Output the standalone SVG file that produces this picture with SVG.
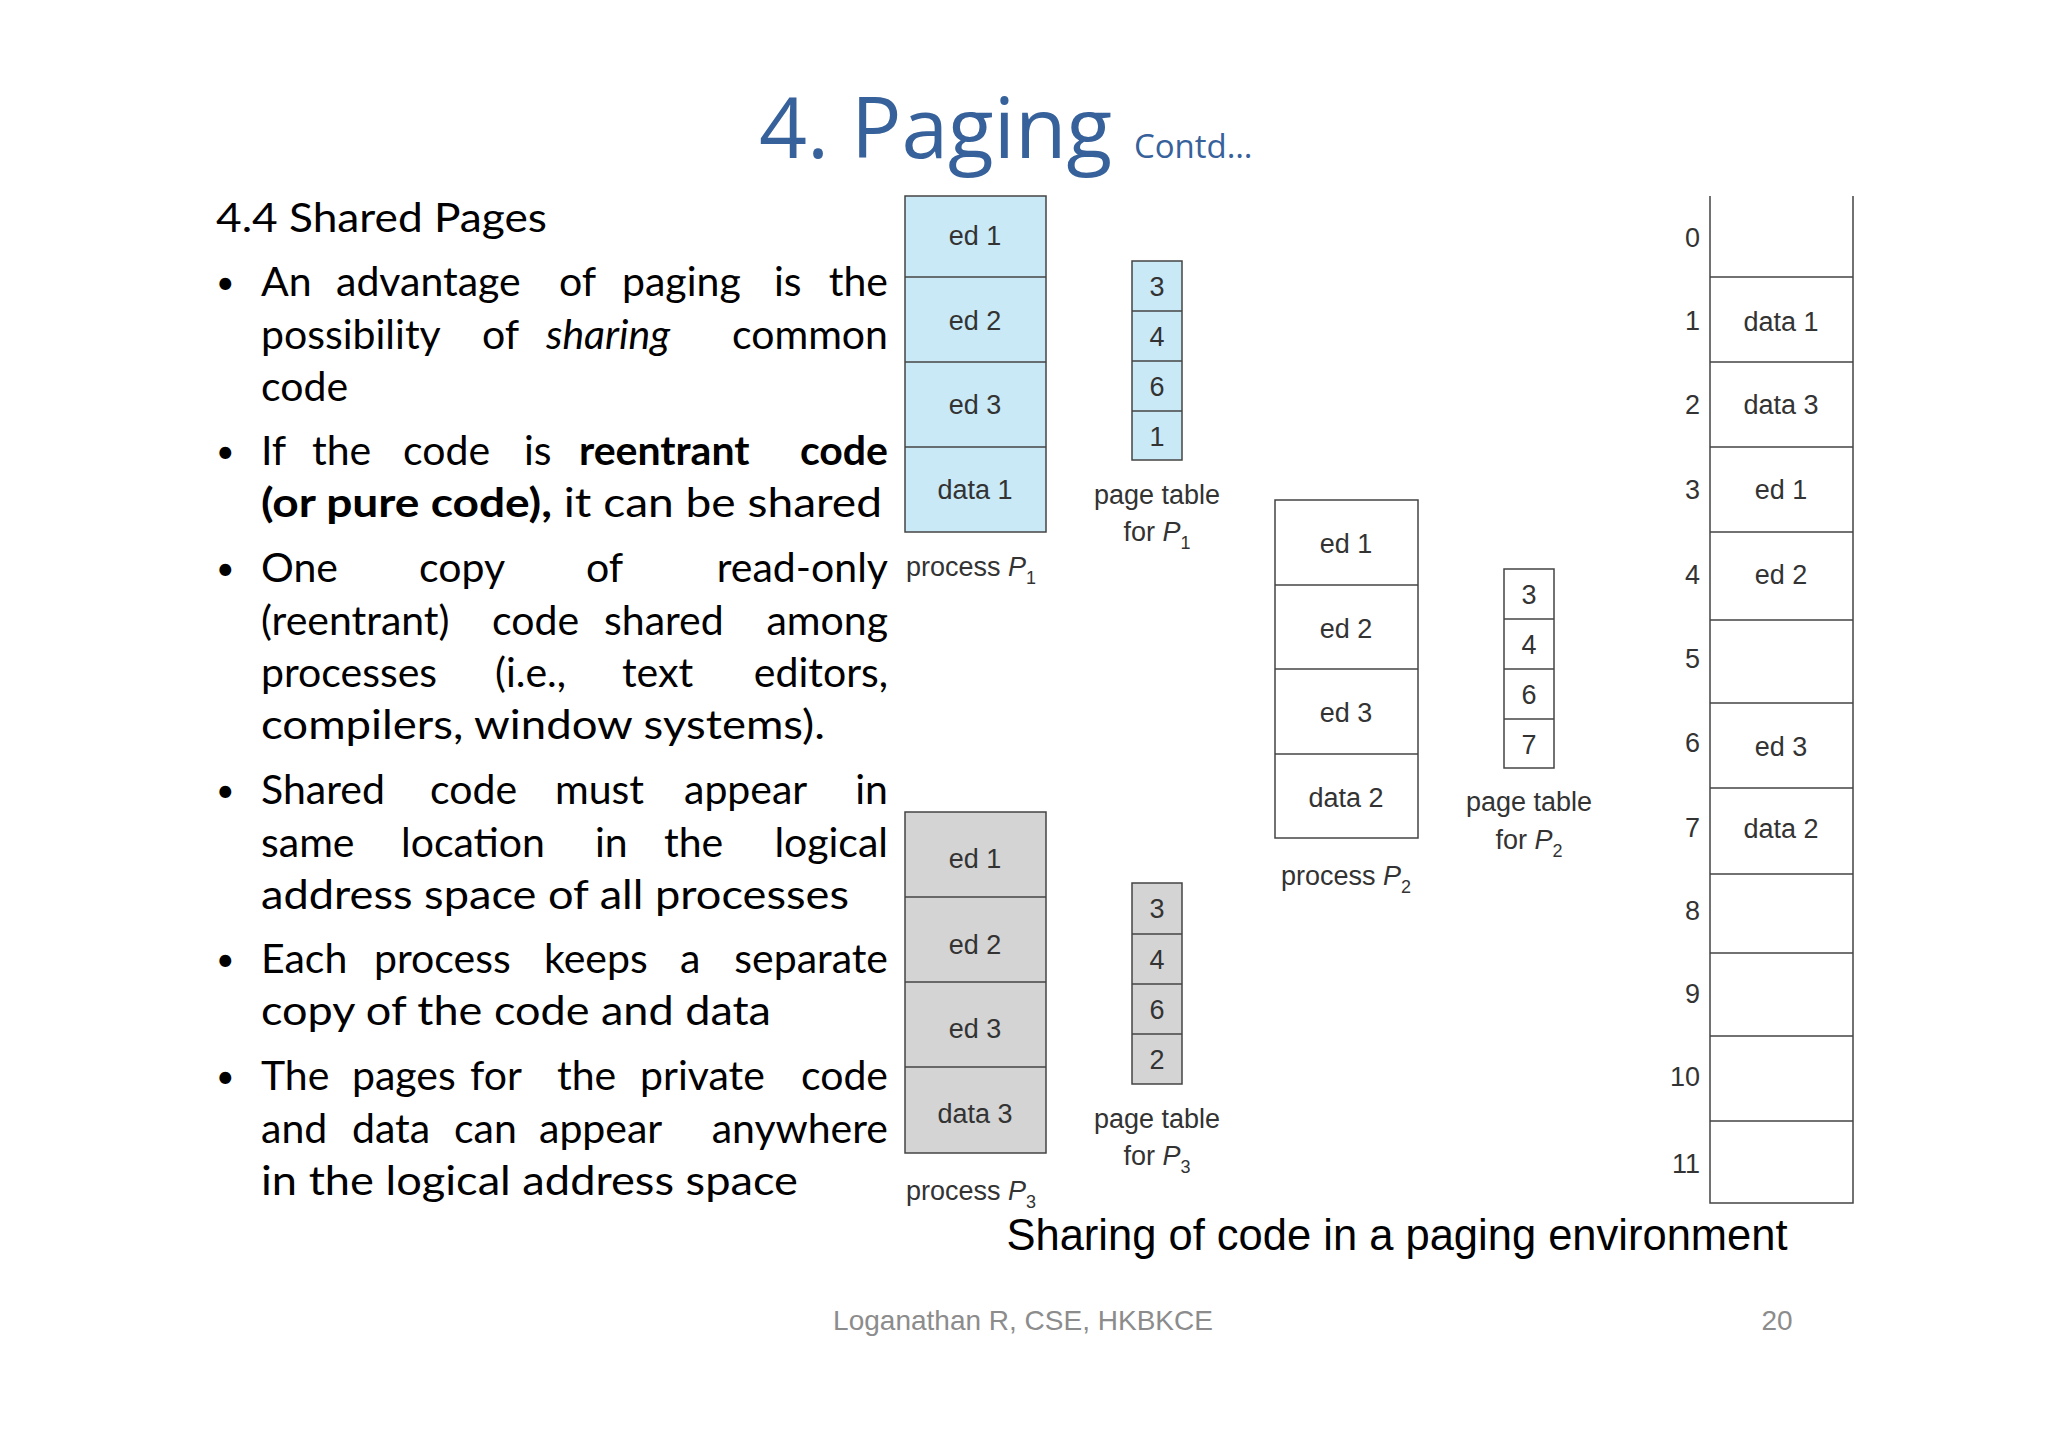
<svg xmlns="http://www.w3.org/2000/svg" width="2048" height="1447" viewBox="0 0 2048 1447">
<style>
.b{font-family:Lato,"Open Sans",sans-serif;font-size:41px;fill:#000}
.u{font-family:Lato,"Open Sans",sans-serif;font-size:32px;fill:#000}
.e{text-anchor:end}
.d{font-family:"Liberation Sans",Arial,sans-serif;font-size:27px;fill:#333;text-anchor:middle}
.s{font-family:"Liberation Sans",Arial,sans-serif;font-size:27px;fill:#333;text-anchor:start}
.n{font-family:"Liberation Sans",Arial,sans-serif;font-size:27px;fill:#333;text-anchor:end}
.c{stroke:#444;stroke-width:1.5}
.w{fill:#fff}.bl{fill:#c9e9f7}.g{fill:#d4d4d4}
</style>
<rect width="2048" height="1447" fill="#fff"/>
<text x="759" y="158" font-family="'Open Sans',sans-serif" font-size="84" fill="#37619a">4. Paging <tspan font-size="33">Contd…</tspan></text>
<g id="text">
<text class="b" x="216" y="232" textLength="331" lengthAdjust="spacingAndGlyphs">4.4 Shared Pages</text>
<text class="u" x="216" y="294">•</text>
<text class="b" y="296"><tspan x="261">An</tspan><tspan x="336">advantage</tspan><tspan x="559">of</tspan><tspan x="622">paging</tspan><tspan x="774">is</tspan></text><text class="b e" x="888" y="296">the</text>
<text class="b" y="349"><tspan x="261">possibility</tspan><tspan x="482">of</tspan><tspan x="546" font-style="italic">sharing</tspan></text><text class="b e" x="888" y="349">common</text>
<text class="b" x="261" y="401">code</text>
<text class="u" x="216" y="463">•</text>
<text class="b" y="465"><tspan x="261">If</tspan><tspan x="312">the</tspan><tspan x="403">code</tspan><tspan x="524">is</tspan><tspan x="579" font-weight="bold">reentrant</tspan></text><text class="b e" x="888" y="465" font-weight="bold">code</text>
<text class="b" x="261" y="517" textLength="621" lengthAdjust="spacingAndGlyphs"><tspan font-weight="bold">(or pure code),</tspan> it can be shared</text>
<text class="u" x="216" y="580">•</text>
<text class="b" y="582"><tspan x="261">One</tspan><tspan x="419">copy</tspan><tspan x="586">of</tspan></text><text class="b e" x="888" y="582">read-only</text>
<text class="b" y="635"><tspan x="261">(reentrant)</tspan><tspan x="492">code</tspan><tspan x="604">shared</tspan></text><text class="b e" x="888" y="635">among</text>
<text class="b" y="687"><tspan x="261">processes</tspan><tspan x="495">(i.e.,</tspan><tspan x="622">text</tspan></text><text class="b e" x="888" y="687">editors,</text>
<text class="b" x="261" y="739" textLength="564" lengthAdjust="spacingAndGlyphs">compilers, window systems).</text>
<text class="u" x="216" y="802">•</text>
<text class="b" y="804"><tspan x="261">Shared</tspan><tspan x="430">code</tspan><tspan x="555">must</tspan><tspan x="684">appear</tspan></text><text class="b e" x="888" y="804">in</text>
<text class="b" y="857"><tspan x="261">same</tspan><tspan x="401">location</tspan><tspan x="595">in</tspan><tspan x="664">the</tspan></text><text class="b e" x="888" y="857">logical</text>
<text class="b" x="261" y="909" textLength="588" lengthAdjust="spacingAndGlyphs">address space of all processes</text>
<text class="u" x="216" y="971">•</text>
<text class="b" y="973"><tspan x="261">Each</tspan><tspan x="374">process</tspan><tspan x="544">keeps</tspan><tspan x="680">a</tspan></text><text class="b e" x="888" y="973">separate</text>
<text class="b" x="261" y="1025" textLength="510" lengthAdjust="spacingAndGlyphs">copy of the code and data</text>
<text class="u" x="216" y="1088">•</text>
<text class="b" y="1090"><tspan x="261">The</tspan><tspan x="352">pages</tspan><tspan x="470">for</tspan><tspan x="557">the</tspan><tspan x="640">private</tspan></text><text class="b e" x="888" y="1090">code</text>
<text class="b" y="1143"><tspan x="261">and</tspan><tspan x="352">data</tspan><tspan x="454">can</tspan><tspan x="539">appear</tspan></text><text class="b e" x="888" y="1143">anywhere</text>
<text class="b" x="261" y="1195" textLength="537" lengthAdjust="spacingAndGlyphs">in the logical address space</text>
</g>
<g id="p1">
<rect class="c bl" x="905" y="196" width="141" height="336"/>
<line class="c" x1="905" y1="277" x2="1046" y2="277"/><line class="c" x1="905" y1="362" x2="1046" y2="362"/><line class="c" x1="905" y1="447" x2="1046" y2="447"/>
<text class="d" x="975" y="245">ed 1</text><text class="d" x="975" y="330">ed 2</text><text class="d" x="975" y="414">ed 3</text><text class="d" x="975" y="499">data 1</text>
<text class="s" x="906" y="576">process <tspan font-style="italic">P</tspan><tspan font-size="18" dy="8">1</tspan></text>
</g>
<g id="pt1">
<rect class="c bl" x="1132" y="261" width="50" height="199"/>
<line class="c" x1="1132" y1="311" x2="1182" y2="311"/><line class="c" x1="1132" y1="361" x2="1182" y2="361"/><line class="c" x1="1132" y1="411" x2="1182" y2="411"/>
<text class="d" x="1157" y="296">3</text><text class="d" x="1157" y="346">4</text><text class="d" x="1157" y="396">6</text><text class="d" x="1157" y="446">1</text>
<text class="d" x="1157" y="504">page table</text><text class="d" x="1157" y="541">for <tspan font-style="italic">P</tspan><tspan font-size="18" dy="8">1</tspan></text>
</g>
<g id="p2">
<rect class="c w" x="1275" y="500" width="143" height="338"/>
<line class="c" x1="1275" y1="585" x2="1418" y2="585"/><line class="c" x1="1275" y1="669" x2="1418" y2="669"/><line class="c" x1="1275" y1="754" x2="1418" y2="754"/>
<text class="d" x="1346" y="553">ed 1</text><text class="d" x="1346" y="638">ed 2</text><text class="d" x="1346" y="722">ed 3</text><text class="d" x="1346" y="807">data 2</text>
<text class="d" x="1346" y="885">process <tspan font-style="italic">P</tspan><tspan font-size="18" dy="8">2</tspan></text>
</g>
<g id="pt2">
<rect class="c w" x="1504" y="569" width="50" height="199"/>
<line class="c" x1="1504" y1="619" x2="1554" y2="619"/><line class="c" x1="1504" y1="669" x2="1554" y2="669"/><line class="c" x1="1504" y1="719" x2="1554" y2="719"/>
<text class="d" x="1529" y="604">3</text><text class="d" x="1529" y="654">4</text><text class="d" x="1529" y="704">6</text><text class="d" x="1529" y="754">7</text>
<text class="d" x="1529" y="811">page table</text><text class="d" x="1529" y="849">for <tspan font-style="italic">P</tspan><tspan font-size="18" dy="8">2</tspan></text>
</g>
<g id="p3">
<rect class="c g" x="905" y="812" width="141" height="341"/>
<line class="c" x1="905" y1="897" x2="1046" y2="897"/><line class="c" x1="905" y1="982" x2="1046" y2="982"/><line class="c" x1="905" y1="1067" x2="1046" y2="1067"/>
<text class="d" x="975" y="868">ed 1</text><text class="d" x="975" y="954">ed 2</text><text class="d" x="975" y="1038">ed 3</text><text class="d" x="975" y="1123">data 3</text>
<text class="s" x="906" y="1200">process <tspan font-style="italic">P</tspan><tspan font-size="18" dy="8">3</tspan></text>
</g>
<g id="pt3">
<rect class="c g" x="1132" y="883" width="50" height="201"/>
<line class="c" x1="1132" y1="934" x2="1182" y2="934"/><line class="c" x1="1132" y1="984" x2="1182" y2="984"/><line class="c" x1="1132" y1="1034" x2="1182" y2="1034"/>
<text class="d" x="1157" y="918">3</text><text class="d" x="1157" y="969">4</text><text class="d" x="1157" y="1019">6</text><text class="d" x="1157" y="1069">2</text>
<text class="d" x="1157" y="1128">page table</text><text class="d" x="1157" y="1165">for <tspan font-style="italic">P</tspan><tspan font-size="18" dy="8">3</tspan></text>
</g>
<g id="mem">
<rect class="w" x="1710" y="196" width="143" height="1007"/>
<path class="c" fill="none" d="M1710 196V1203H1853V196M1710 277H1853M1710 362H1853M1710 447H1853M1710 532H1853M1710 620H1853M1710 703H1853M1710 788H1853M1710 874H1853M1710 953H1853M1710 1036H1853M1710 1121H1853"/>
<text class="n" x="1700" y="247">0</text><text class="n" x="1700" y="330">1</text><text class="n" x="1700" y="414">2</text><text class="n" x="1700" y="499">3</text><text class="n" x="1700" y="584">4</text><text class="n" x="1700" y="668">5</text><text class="n" x="1700" y="752">6</text><text class="n" x="1700" y="837">7</text><text class="n" x="1700" y="920">8</text><text class="n" x="1700" y="1003">9</text><text class="n" x="1700" y="1086">10</text><text class="n" x="1700" y="1173">11</text>
<text class="d" x="1781" y="331">data 1</text><text class="d" x="1781" y="414">data 3</text><text class="d" x="1781" y="499">ed 1</text><text class="d" x="1781" y="584">ed 2</text><text class="d" x="1781" y="756">ed 3</text><text class="d" x="1781" y="838">data 2</text>
</g>
<text x="1397" y="1250" font-family="'Liberation Sans',Arial,sans-serif" font-size="43.5" text-anchor="middle" fill="#000">Sharing of code in a paging environment</text>
<text x="1023" y="1330" font-family="'Liberation Sans',Arial,sans-serif" font-size="28" text-anchor="middle" fill="#8c8c8c">Loganathan R, CSE, HKBKCE</text>
<text x="1777" y="1330" font-family="'Liberation Sans',Arial,sans-serif" font-size="28" text-anchor="middle" fill="#8c8c8c">20</text>
</svg>
